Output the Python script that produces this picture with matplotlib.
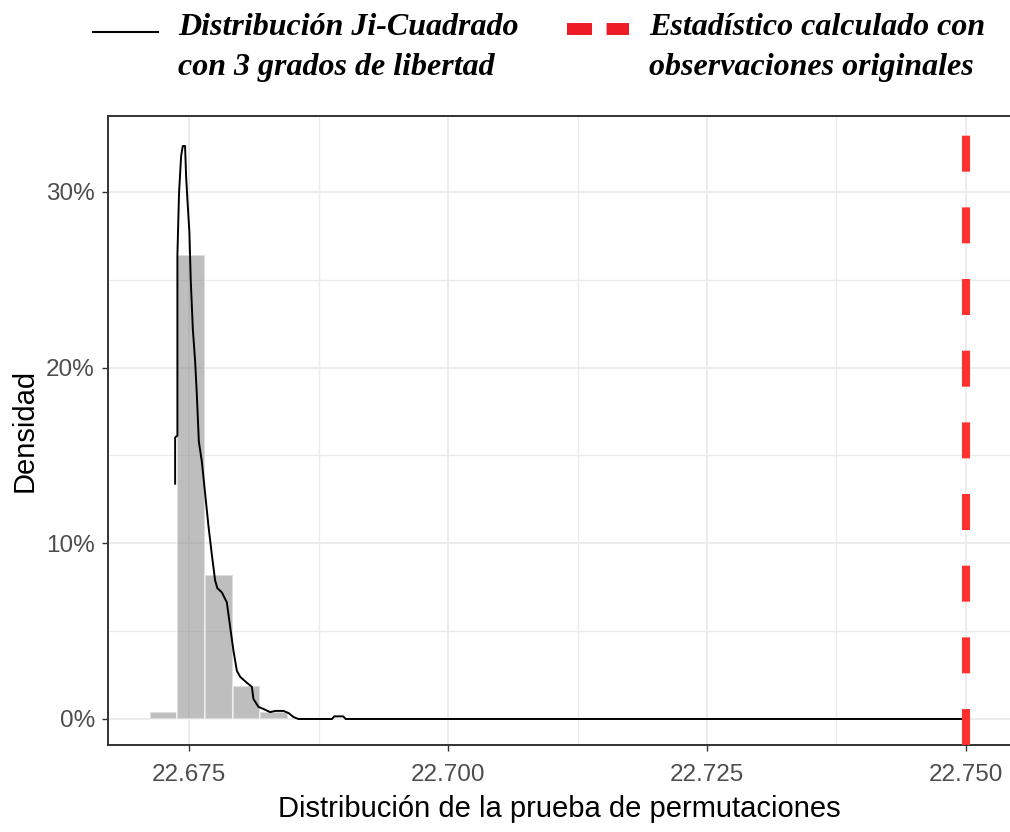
import matplotlib
matplotlib.use("Agg")
import matplotlib.pyplot as plt
from matplotlib.lines import Line2D
from matplotlib.ticker import FuncFormatter

#############################################
# DATOS
#############################################

# Histograma de la prueba de permutaciones (bordes de clase y densidad en %)
bin_edges = [22.67120, 22.67387, 22.67654, 22.67921, 22.68188, 22.68455]
bin_density = [0.39, 26.4, 8.17, 1.9, 0.39]

# Curva de densidad Ji-Cuadrado con 3 grados de libertad
curve_x = [22.67365, 22.67365, 22.67387, 22.67387, 22.67403, 22.67423, 22.67439,
           22.67461, 22.67471, 22.67484, 22.67503, 22.67516, 22.67536, 22.67558,
           22.67574, 22.67594, 22.67623, 22.67655, 22.67687, 22.67719, 22.67751,
           22.67773, 22.67816, 22.67864, 22.67896, 22.67928, 22.67961, 22.67993,
           22.68058, 22.68106, 22.68121, 22.68170, 22.68218, 22.68283, 22.68331,
           22.68411, 22.68460, 22.68508, 22.68556, 22.68879, 22.68901, 22.68988,
           22.69012, 22.75000]
curve_y = [13.39, 16.02, 16.13, 26.38, 29.98, 32.04, 32.61,
           32.61, 30.89, 29.52, 27.69, 24.94, 22.20, 20.37,
           18.54, 15.79, 14.65, 12.81, 10.98, 9.38, 7.89,
           7.44, 7.21, 6.64, 5.26, 3.89, 2.75, 2.40,
           2.06, 1.83, 1.14, 0.69, 0.57, 0.39, 0.46,
           0.46, 0.34, 0.11, 0.0, 0.0, 0.15, 0.15,
           0.0, 0.0]

# Estadistico calculado con las observaciones originales
observed_stat = 22.750

x_ticks = [22.675, 22.700, 22.725, 22.750]
x_minor = [22.6875, 22.7125, 22.7375]
y_ticks = [0, 10, 20, 30]
y_minor = [5, 15, 25]

legend_labels = [["Distribución Ji-Cuadrado", "con 3 grados de libertad"],
                 ["Estadístico calculado con", "observaciones originales"]]

#############################################
# GRAFICO
#############################################

plt.rcParams["font.family"] = ["Liberation Sans", "DejaVu Sans"]
plt.rcParams["lines.scale_dashes"] = False

W, H = 1010, 832
fig = plt.figure(figsize=(W / 100, H / 100), dpi=100)
ax = fig.add_axes([108 / W, (H - 745) / H, (1010 - 108) / W, (745 - 116) / H])

# histograma
widths = [bin_edges[i + 1] - bin_edges[i] for i in range(len(bin_density))]
ax.bar(bin_edges[:-1], bin_density, width=widths, align="edge",
       color="#7f7f7f", alpha=0.5, edgecolor="white", linewidth=1.5, zorder=2)

# curva de densidad
ax.plot(curve_x, curve_y, color="black", linewidth=1.4, zorder=3)

# linea del estadistico observado
ax.axvline(observed_stat, color="#ff3030", linewidth=5.8, linestyle=(0, (25.9, 25.7)),
           solid_capstyle="butt", dash_capstyle="butt", zorder=4)

ax.set_xlim(22.66717, 22.75425)
ax.set_ylim(-1.48, 34.32)
ax.set_xticks(x_ticks)
ax.set_xticks(x_minor, minor=True)
ax.set_yticks(y_ticks)
ax.set_yticks(y_minor, minor=True)
ax.xaxis.set_major_formatter(FuncFormatter(lambda v, p: f"{v:.3f}"))
ax.yaxis.set_major_formatter(FuncFormatter(lambda v, p: f"{v:.0f}%"))

ax.grid(which="major", color="#ebebeb", linewidth=1.3, zorder=0)
ax.grid(which="minor", color="#ebebeb", linewidth=1.0, zorder=0)
ax.set_axisbelow(True)

ax.tick_params(which="major", length=4.5, width=1.0, color="#333333",
               labelsize=17.5, labelcolor="#4d4d4d", pad=5)
ax.tick_params(axis="x", which="major", pad=9)
ax.tick_params(which="minor", length=0)
for side in ["left", "bottom", "top"]:
    ax.spines[side].set_color("#333333")
    ax.spines[side].set_linewidth(1.4)
ax.spines["right"].set_visible(False)

ax.set_xlabel("Distribución de la prueba de permutaciones", fontsize=21, labelpad=7)
ax.set_ylabel("Densidad", fontsize=21, labelpad=5)

# leyenda manual arriba
serif = dict(family=["Liberation Serif", "DejaVu Serif"], style="italic",
             weight="bold", fontsize=23, va="baseline")
fig.add_artist(Line2D([93 / W, 158 / W], [1 - 32 / H, 1 - 32 / H],
                      color="black", linewidth=1.5))
fig.add_artist(Line2D([567 / W, 629 / W], [1 - 29 / H, 1 - 29 / H],
                      color="#ee1c25", linewidth=8.6, linestyle=(0, (18, 10.5)),
                      dash_capstyle="butt", solid_capstyle="butt"))
for x0, lines in zip([178, 649], legend_labels):
    fig.text(x0 / W, 1 - 35 / H, lines[0], **serif)
    fig.text(x0 / W, 1 - 75 / H, lines[1], **serif)

fig.savefig("out.png", dpi=100)
